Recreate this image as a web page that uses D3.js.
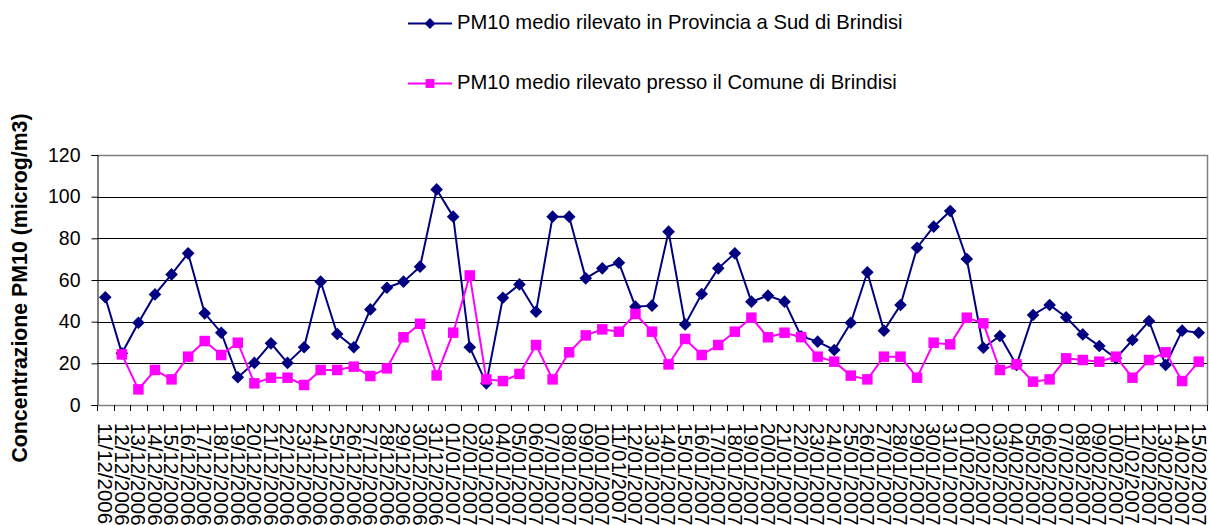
<!DOCTYPE html>
<html>
<head>
<meta charset="utf-8">
<script src="https://cdn.jsdelivr.net/npm/d3@7"></script>
<style>
	body { margin: 0; background: #fff; }
	svg { display: block; font-family: Arial, "Liberation Sans", sans-serif; }
</style>
</head>
<body>
<svg id="chart" width="1209" height="525"></svg>
<script>
// category labels (one per day)
const dates = [
	"11/12/2006", "12/12/2006", "13/12/2006", "14/12/2006", "15/12/2006", "16/12/2006", "17/12/2006",
	"18/12/2006", "19/12/2006", "20/12/2006", "21/12/2006", "22/12/2006", "23/12/2006", "24/12/2006",
	"25/12/2006", "26/12/2006", "27/12/2006", "28/12/2006", "29/12/2006", "30/12/2006", "31/12/2006",
	"01/01/2007", "02/01/2007", "03/01/2007", "04/01/2007", "05/01/2007", "06/01/2007", "07/01/2007",
	"08/01/2007", "09/01/2007", "10/01/2007", "11/01/2007", "12/01/2007", "13/01/2007", "14/01/2007",
	"15/01/2007", "16/01/2007", "17/01/2007", "18/01/2007", "19/01/2007", "20/01/2007", "21/01/2007",
	"22/01/2007", "23/01/2007", "24/01/2007", "25/01/2007", "26/01/2007", "27/01/2007", "28/01/2007",
	"29/01/2007", "30/01/2007", "31/01/2007", "01/02/2007", "02/02/2007", "03/02/2007", "04/02/2007",
	"05/02/2007", "06/02/2007", "07/02/2007", "08/02/2007", "09/02/2007", "10/02/2007", "11/02/2007",
	"12/02/2007", "13/02/2007", "14/02/2007", "15/02/2007"
];

// PM10 medio rilevato in Provincia a Sud di Brindisi
const provinciaSud = [
	51.7, 24.8, 39.5, 53.1, 62.7, 72.8, 44, 34.7, 13.3, 20.2,
	29.6, 20.2, 27.7, 59.2, 34.1, 27.7, 45.9, 56.3, 59.2, 66.4,
	103.5, 90.4, 27.7, 10.4, 51.5, 57.9, 44.8, 90.4, 90.4, 60.8,
	65.6, 68.3, 47.2, 47.7, 83.2, 38.7, 53.3, 65.6, 72.8, 49.6,
	52.5, 49.6, 33, 30.4, 26.4, 39.5, 63.7, 35.7, 48, 75.5,
	85.6, 93.1, 70.1, 27.5, 33.1, 19.2, 43.2, 48, 42.1, 33.9,
	28.3, 22.4, 31.2, 40.3, 19.2, 35.7, 34.7
];

// PM10 medio rilevato presso il Comune di Brindisi (no value on the first day)
const comuneBrindisi = [
	null, 24.3, 7.5, 16.8, 12.3, 23.2, 30.7, 24, 29.9, 10.4,
	13.1, 13.1, 9.6, 16.8, 16.8, 18.4, 13.9, 17.6, 32.5, 39,
	14.2, 34.7, 62.2, 12.3, 11.5, 14.9, 28.8, 12.3, 25.3, 33.4,
	36.3, 35.2, 43.7, 35.2, 19.5, 31.7, 24, 28.8, 35.2, 41.9,
	32.5, 34.7, 32.6, 23.2, 20.8, 14.1, 12.3, 23.2, 23.2, 13.1,
	29.9, 29.1, 41.9, 39.2, 16.8, 19.5, 11.2, 12.3, 22.4, 21.6,
	20.8, 23.2, 13.1, 21.6, 25.3, 11.5, 20.8
];

const yTicks = [0, 20, 40, 60, 80, 100, 120];

const seriesNames = [
	"PM10 medio rilevato in Provincia a Sud di Brindisi",
	"PM10 medio rilevato presso il Comune di Brindisi"
];
const yTitle = "Concentrazione PM10 (microg/m3)";

const svg = d3.select("#chart");

// plot area
const plotL = 97, plotR = 1207, plotT = 155, plotB = 405;

const x = d3.scaleBand()
	.domain(dates)
	.range([plotL, plotR]);

const y = d3.scaleLinear()
	.domain([0, 120])
	.range([plotB, plotT]);

const cx = (i) => x(dates[i]) + x.bandwidth() / 2;

// gridlines
svg.append("g")
	.selectAll("line")
	.data(yTicks.filter((t) => t > 0 && t < 120))
	.enter()
	.append("line")
	.attr("x1", plotL)
	.attr("x2", plotR)
	.attr("y1", (t) => Math.round(y(t)) + 0.5)
	.attr("y2", (t) => Math.round(y(t)) + 0.5)
	.attr("stroke", "#000")
	.attr("stroke-width", 1);

// frame top/right
svg.append("path")
	.attr("d", `M${plotL},${plotT + 0.5}H${plotR + 0.5}V${plotB}`)
	.attr("fill", "none")
	.attr("stroke", "#808080")
	.attr("stroke-width", 1.5);

// y axis
const yAxis = svg.append("g")
	.attr("transform", `translate(${plotL + 0.5},0)`)
	.call(d3.axisLeft(y).tickValues(yTicks).tickSize(6).tickPadding(11));
yAxis.select(".domain").attr("stroke", "#000");
yAxis.selectAll(".tick line").attr("stroke", "#000");
yAxis.selectAll("text")
	.attr("font-size", 19.5)
	.attr("font-family", "Arial, 'Liberation Sans', sans-serif")
	.attr("fill", "#000");

// x axis: ticks on category boundaries
svg.append("line")
	.attr("x1", plotL).attr("x2", plotR + 0.5)
	.attr("y1", plotB + 0.5).attr("y2", plotB + 0.5)
	.attr("stroke", "#808080")
	.attr("stroke-width", 1.5);
svg.append("g")
	.selectAll("line")
	.data(dates.concat(["end"]))
	.enter()
	.append("line")
	.attr("x1", (d, i) => Math.round(i < dates.length ? x(d) : plotR) + 0.5)
	.attr("x2", (d, i) => Math.round(i < dates.length ? x(d) : plotR) + 0.5)
	.attr("y1", plotB)
	.attr("y2", plotB + 6)
	.attr("stroke", "#000");

// date labels run off the bottom edge, as in the original
svg.append("g")
	.selectAll("text")
	.data(dates)
	.enter()
	.append("text")
	.attr("transform", (d, i) => `translate(${cx(i)},${plotB + 18}) rotate(90)`)
	.attr("dy", "0.35em")
	.attr("font-size", 20.5)
	.attr("fill", "#000")
	.text((d) => d);

// y title
svg.append("text")
	.attr("transform", "translate(27,288) rotate(-90)")
	.attr("text-anchor", "middle")
	.attr("font-size", 21.3)
	.attr("font-weight", "bold")
	.attr("fill", "#000")
	.text(yTitle);

// series
const diamond = d3.symbol().type(d3.symbolSquare).size(80);
const square = d3.symbol().type(d3.symbolSquare).size(110);

const series = [
	{values: provinciaSud, color: "#000080", shape: diamond, rot: 45},
	{values: comuneBrindisi, color: "#FF00FF", shape: square, rot: 0}
];

const line = d3.line()
	.defined((v) => v != null)
	.x((v, i) => cx(i))
	.y((v) => y(v));

series.forEach((s) => {
	const g = svg.append("g");
	g.append("path")
		.datum(s.values)
		.attr("fill", "none")
		.attr("stroke", s.color)
		.attr("stroke-width", 2)
		.attr("d", line);
	g.selectAll("path.pt")
		.data(s.values.map((v, i) => ({v, i})).filter((p) => p.v != null))
		.enter()
		.append("path")
		.attr("class", "pt")
		.attr("d", s.shape)
		.attr("fill", s.color)
		.attr("transform", (p) => `translate(${cx(p.i)},${y(p.v)}) rotate(${s.rot})`);
});

// legend
const legendY = [23.5, 83.5];
series.forEach((s, k) => {
	const g = svg.append("g").attr("transform", `translate(0,${legendY[k]})`);
	g.append("line")
		.attr("x1", 408).attr("x2", 452)
		.attr("y1", 0).attr("y2", 0)
		.attr("stroke", s.color)
		.attr("stroke-width", 2);
	g.append("path")
		.attr("d", s.shape)
		.attr("fill", s.color)
		.attr("transform", `translate(430,0) rotate(${s.rot}) scale(0.85)`);
	g.append("text")
		.attr("x", 457)
		.attr("y", 5)
		.attr("font-size", 20.2)
		.attr("fill", "#000")
		.text(seriesNames[k]);
});
</script>
</body>
</html>
